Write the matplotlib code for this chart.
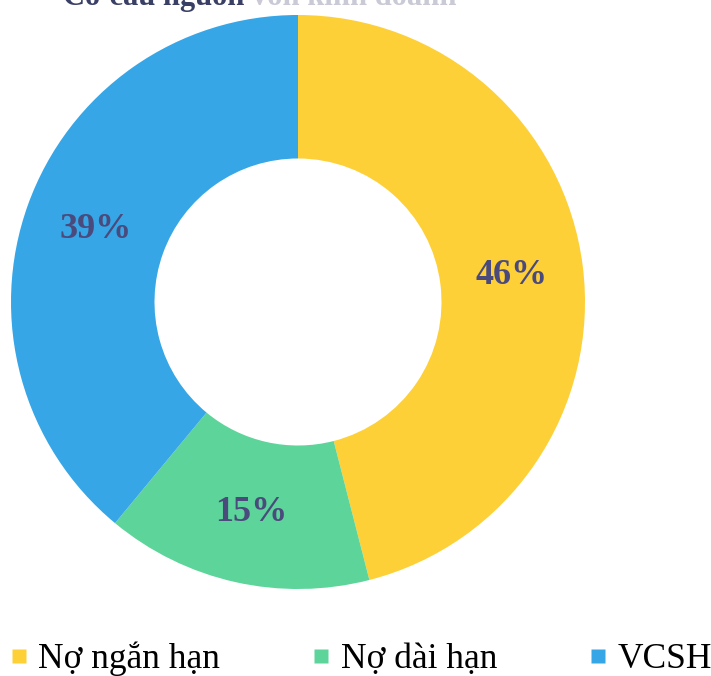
import matplotlib.pyplot as plt
from matplotlib.lines import Line2D

# Data
categories = ["Nợ ngắn hạn", "Nợ dài hạn", "VCSH"]
shares = [46, 15, 39]
colors = ["#FDD038", "#5CD49A", "#36A6E6"]
title_dark = "Cơ cấu nguồn"
title_light = "vốn kinh doanh"

plt.rcParams['font.family'] = ['Liberation Serif', 'DejaVu Serif']

fig = plt.figure(figsize=(7.11, 6.76), dpi=100)
ax = fig.add_axes([11 / 711, 87 / 676, 574 / 711, 574 / 676])

wedges, texts, autotexts = ax.pie(
    shares, colors=colors, startangle=90, counterclock=False,
    radius=1.0, wedgeprops=dict(width=0.5, linewidth=0),
    autopct=lambda p: f"{p:.0f}%", pctdistance=0.75,
)
for t in autotexts:
    t.set_color("#4B4A7C")
    t.set_fontsize(26)
    t.set_fontweight("bold")
ax.set_xlim(-1, 1)
ax.set_ylim(-1, 1)
ax.set_aspect("equal")
ax.axis("off")

# title, cut off at the top like the scan
t1 = fig.text(63 / 711, 1 - 5 / 676, title_dark, fontsize=22, fontweight="bold",
              color="#3A3F66", va="baseline", ha="left")
fig.canvas.draw()
x_end = t1.get_window_extent().x1 / fig.bbox.width
fig.text(x_end + 8 / 711, 1 - 5 / 676, title_light, fontsize=22, fontweight="bold",
         color="#C9CAD6", va="baseline", ha="left")

handles = [Line2D([0], [0], marker="s", linestyle="none", markersize=10,
                  markerfacecolor=c, markeredgecolor="none") for c in colors]
fig.legend(handles, categories, loc="lower left", bbox_to_anchor=(0.014, 0.0),
           ncol=3, frameon=False, fontsize=25.5, handlelength=0.5,
           handletextpad=0.3, columnspacing=2.6, borderpad=0, borderaxespad=0)

fig.savefig("out.png", dpi=100)
